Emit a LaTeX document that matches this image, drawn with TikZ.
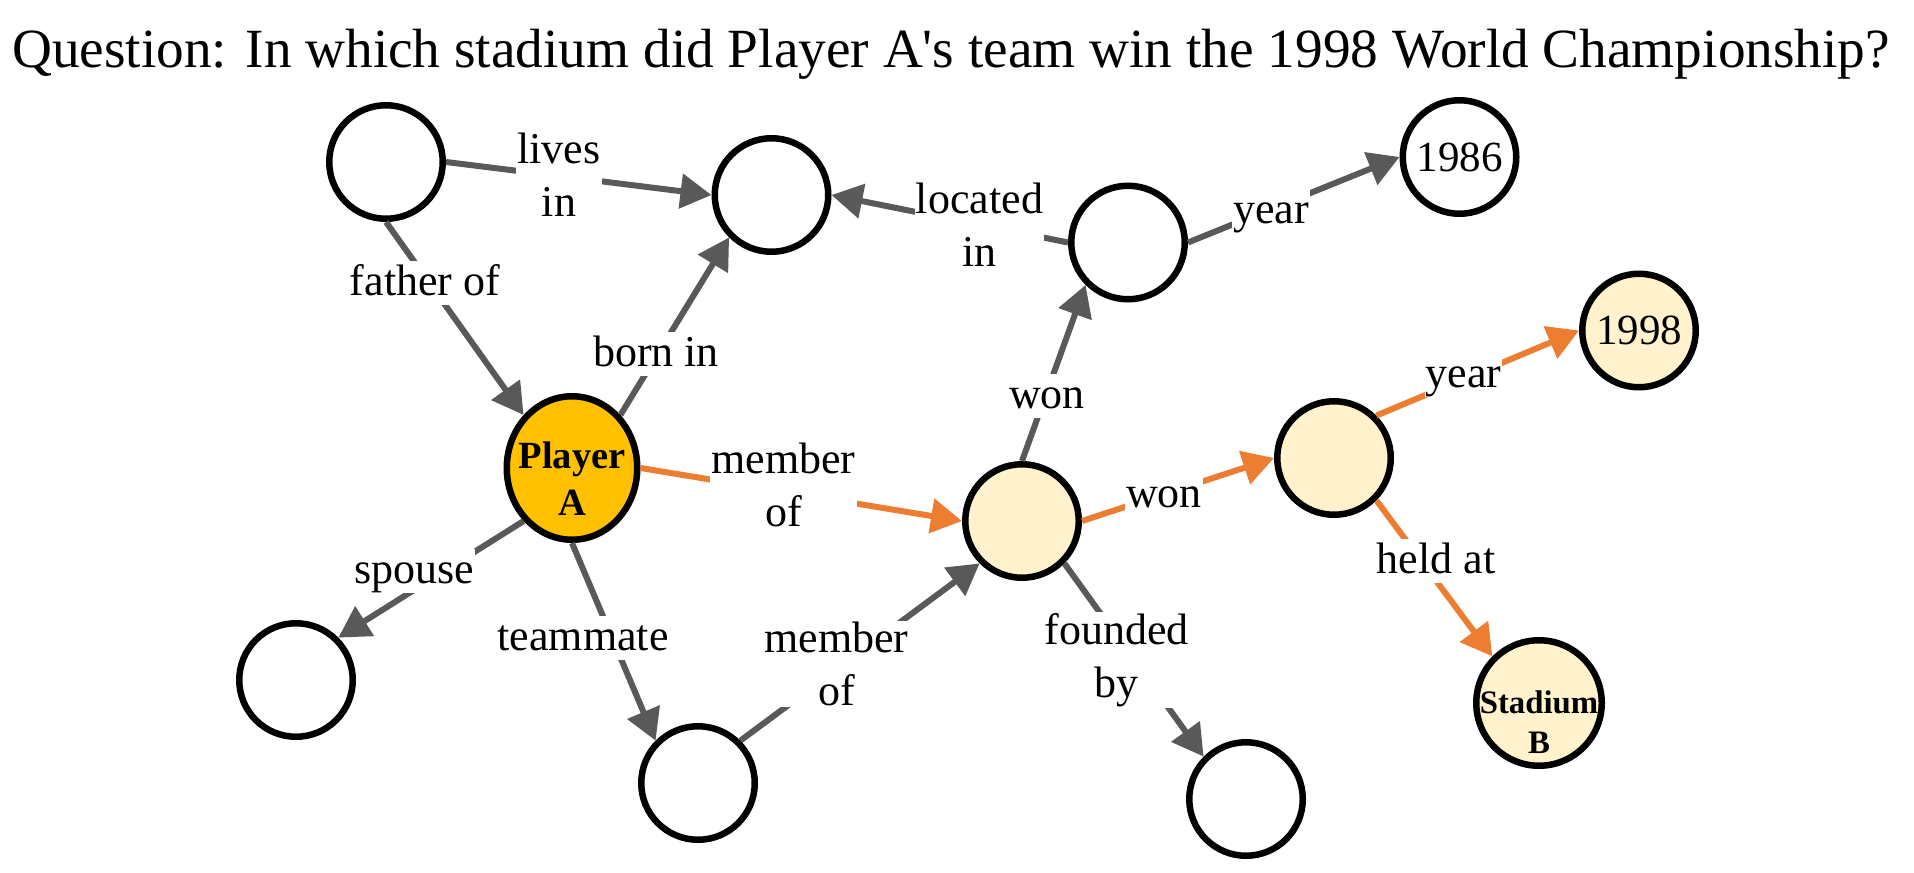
\documentclass[tikz,border=0pt]{standalone}
\usepackage{fontspec}
\setmainfont{Liberation Serif}
\usetikzlibrary{arrows.meta,shapes.geometric}
\definecolor{edgegray}{RGB}{89,89,89}
\definecolor{edgeorange}{RGB}{237,125,49}
\definecolor{gold}{RGB}{255,192,0}
\definecolor{lightfill}{RGB}{255,242,204}
\begin{document}
\begin{tikzpicture}[x=0.5pt,y=-0.5pt,
  circ/.style={circle, draw=black, line width=3.25pt, minimum size=56.75pt, inner sep=0pt, fill=white, font=\fontsize{21.5}{25}\selectfont},
  hl/.style={fill=lightfill},
  pa/.style={ellipse, draw=black, line width=3.25pt, minimum width=65.25pt, minimum height=71.75pt, inner sep=0pt, fill=gold},
  gedge/.style={draw=edgegray, line width=3pt, -{Triangle[length=15.5pt,width=17pt]}},
  oedge/.style={draw=edgeorange, line width=3pt, -{Triangle[length=15.5pt,width=17pt]}},
  lbl/.style={fill=white, inner sep=0.5pt, font=\fontsize{22}{26.4}\selectfont, text height=16.5pt, text depth=4.4pt, anchor=base},
  lblm/.style={fill=white, inner sep=0.5pt, font=\fontsize{22}{26.4}\selectfont, align=center}
]
\useasboundingbox (0,0) rectangle (1914,872);
\fill[white] (0,0) rectangle (1914,872);

\node[font=\fontsize{27.65}{33}\selectfont, anchor=base, inner sep=0pt] (title) at (951,68)
  {Question: In which stadium did Player A\textquotesingle s team win the 1998 World Championship?};

% nodes
\node[circ] (TL) at (386,162) {};
\node[circ] (L) at (771.5,195) {};
\node[circ] (LOC) at (1128,242.5) {};
\node[circ] (Y86) at (1459.5,157) {1986};
\node[circ, hl] (Y98) at (1639,330.5) {1998};
\node[pa] (PA) at (572,468) {};
\node[circ, hl] (M) at (1022,521) {};
\node[circ, hl] (W) at (1334,458) {};
\node[circle, draw=black, line width=3.25pt, minimum size=62.75pt, inner sep=0pt, fill=lightfill] (S) at (1539,703) {};
\node[circ] (SP) at (296,680) {};
\node[circ] (TM) at (698,783) {};
\node[circ] (F) at (1246,799) {};

\node[inner sep=0pt, align=center, font=\bfseries\fontsize{19.25}{23.5}\selectfont] (PAtext) at (572,478.5) {Player\\A};
\node[inner sep=0pt, align=center, font=\bfseries\fontsize{16.4}{20}\selectfont] (Stext) at (1539,721.8) {Stadium\\B};

% edges
\draw[gedge] (TL.east) -- (L.west);
\draw[gedge] (TL.south) -- (PA.north west);
\draw[gedge] (PA.north east) -- (L.south west);
\draw[gedge] (LOC.west) -- (L.east);
\draw[gedge] (LOC.east) -- (Y86.west);
\draw[gedge] (M.north) -- (LOC.south west);
\draw[oedge] (PA.east) -- (M.west);
\draw[oedge] (M.east) -- (W.west);
\draw[oedge] (W.north east) -- (Y98.west);
\draw[oedge] (W.south east) -- (S.north west);
\draw[gedge] (PA.south west) -- (SP.north east);
\draw[gedge] (PA.south) -- (TM.north west);
\draw[gedge] (TM.north east) -- (M.south west);
\draw[gedge] (M.south east) -- (F.north west);

% labels
\node[lblm] (l1) at (559,175) {lives\\in};
\node[lbl] (l2) at (425,295) {father of};
\node[lbl] (l3) at (656,366) {born in};
\node[lblm] (l4) at (979.5,225) {located\\in};
\node[lbl] (l5) at (1271,223) {year};
\node[lbl] (l6) at (1047,408) {won};
\node[lblm] (l7) at (783.5,485) {member\\of};
\node[lbl] (l8) at (1164,507) {won};
\node[lbl] (l9) at (1463.5,387) {year};
\node[lbl] (l10) at (1436,573) {held at};
\node[lbl] (l11) at (414,583) {spouse};
\node[lbl] (l12) at (583,650) {teammate};
\node[lblm] (l13) at (836.5,664) {member\\of};
\node[lblm] (l14) at (1116.5,660) {founded\\by};
\end{tikzpicture}
\end{document}
